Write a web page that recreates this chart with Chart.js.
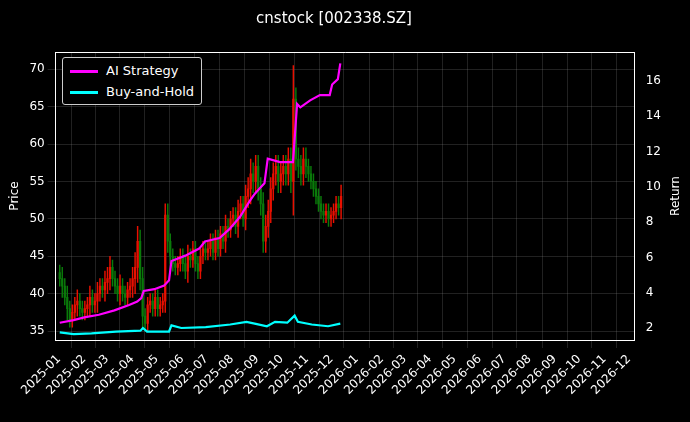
<!DOCTYPE html>
<html>
<head>
<meta charset="utf-8">
<script src="https://cdn.jsdelivr.net/npm/chart.js@4"></script>
<style>
body { margin: 0; background: #000; }
#wrap { position: relative; width: 690px; height: 422px; }
#legend { position: absolute; left: 62px; top: 57px; border: 1px solid #ccc; border-radius: 3px;
  padding: 2px 7px; font: 13px "DejaVu Sans"; color: #fff; background: #000; line-height: 21px; }
#legend span.l { display: inline-block; width: 28px; height: 3px; vertical-align: middle; margin-right: 8px; }
</style>
</head>
<body>
<div id="wrap">
<canvas id="c" width="690" height="422"></canvas>
<div id="legend">
  <div><span class="l" style="background:#ff00ff"></span>AI Strategy</div>
  <div><span class="l" style="background:#00ffff"></span>Buy-and-Hold</div>
</div>
</div>
<script>
// harga penutupan, kira-kira tiap 3 hari kalender mulai 2025-01-02
const closes = [
  42,41,39.5,38,36.5,37.5,38.5,39,38,37.5,
  38,38.5,39.5,38.5,39,40,41,40.5,41.5,
  42,43.5,42,41,40,41,40,39.5,40.5,41,
  42,43.5,47,42,37,36,38.5,39,38,39.5,
  38,38.5,39,50.5,47,45,44,43.5,44,45,
  44,43,45,44.5,46,44,43,45,46,45.5,
  46,47,45.5,47.5,46,48,47,49,48.5,50,
  50.5,49,51,52,50,53,54,56,55,57,
  54,52,47,49,51,54,56,57,55,56,
  57,56,58,55,66,58,57,56,58,57,
  56,55,54,53,52,51,50.5,51,50,50.5,
  51,52,51.5,53
];
const wicks = [
  1,1.5,1,1.5,1,1,1,1.5,1,1,
  1,1,1.5,1,1,1.5,1,1,1.5,
  1.5,1.5,1,1,1,1.5,1,1,1,1,
  1.5,2,2,1.5,1.5,1,1,1,1,1,
  1,1,1,1.5,1.5,1,1,1,1,1,
  1,1,1.5,1,1,1,1,1,1,1,
  1,1,1,1,1,1,1,1.5,1,1,
  1,1,1.5,1,1,1.5,1.5,2,1.5,1.5,
  1.5,1.5,1.5,1.5,1.5,1.5,1.5,1.5,1.5,1.5,
  1.5,1.5,1.5,1.5,4.5,1.5,1.5,1.5,1.5,1.5,
  1,1,1,1,1,1,1,1,1,1,
  1,1,1,1.5
];
const candleStartDay = 1;
const candleStepDays = 3.08;

// kurva return (hari sejak 2025-01-01)
const aiDays = [1,18,31,49,68,86,96,101,104,117,129,135,138,155,172,179,197,209,222,234,240,246,252,256,271,287,292,296,308,320,332,335,342,345];
const aiVals = [2.3,2.45,2.6,2.75,3.0,3.3,3.5,3.7,4.1,4.2,4.4,4.7,5.8,6.1,6.5,6.9,7.1,7.6,8.3,9.2,9.6,9.9,10.2,11.6,11.4,11.4,14.7,14.5,14.9,15.2,15.2,15.8,16.1,17];
const bhDays = [1,18,40,70,100,103,108,135,138,150,180,210,230,240,255,265,280,289,293,310,330,345];
const bhVals = [1.75,1.65,1.7,1.8,1.85,2.0,1.8,1.8,2.15,2.0,2.05,2.2,2.35,2.25,2.1,2.35,2.3,2.7,2.35,2.2,2.1,2.25];

const priceTicks = [35,40,45,50,55,60,65,70];
const returnTicks = [2,4,6,8,10,12,14,16];

const base = Date.UTC(2025,0,1);
const monthTicks = [];
for (let y = 2025; y <= 2026; y++) for (let m = 0; m < 12; m++) {
  monthTicks.push({ value: (Date.UTC(y,m,1) - base) / 86400000, label: y + '-' + String(m+1).padStart(2,'0') });
}

const bodies = [], wickBars = [], colors = [];
let prev = closes[0] + 0.8;
closes.forEach((c, i) => {
  const x = candleStartDay + i * candleStepDays;
  const o = prev;
  bodies.push({ x: x, y: [o, c] });
  wickBars.push({ x: x, y: [Math.min(o,c) - wicks[i], Math.max(o,c) + wicks[i]] });
  colors.push(c >= o ? '#e81000' : '#0a7a0a');
  prev = c;
});

const grid = { color: 'rgba(140,140,140,0.4)', borderDash: [2,2], lineWidth: 0.6 };

new Chart(document.getElementById('c'), {
  data: {
    datasets: [
      { type: 'bar', data: wickBars, backgroundColor: colors, barThickness: 0.8, yAxisID: 'y', grouped: false, order: 3 },
      { type: 'bar', data: bodies, backgroundColor: colors, barThickness: 1.6, yAxisID: 'y', grouped: false, order: 2 },
      { type: 'line', data: aiDays.map((d,i) => ({x:d, y:aiVals[i]})), borderColor: '#ff00ff', borderWidth: 2.2, pointRadius: 0, yAxisID: 'y1', order: 1 },
      { type: 'line', data: bhDays.map((d,i) => ({x:d, y:bhVals[i]})), borderColor: '#00ffff', borderWidth: 2.2, pointRadius: 0, yAxisID: 'y1', order: 0 }
    ]
  },
  options: {
    responsive: false, animation: false,
    layout: { padding: { left: 4, right: 26, top: 0, bottom: 4 } },
    plugins: {
      legend: { display: false }, tooltip: { enabled: false },
      title: { display: true, text: 'cnstock [002338.SZ]', color: '#fff', font: { family: 'DejaVu Sans', size: 15, weight: 'normal' }, padding: { top: 10, bottom: 24 } }
    },
    scales: {
      x: {
        type: 'linear', min: -4, max: 706, offset: false,
        afterBuildTicks: s => { s.ticks = monthTicks.map(t => ({ value: t.value })); },
        ticks: { color: '#fff', font: { family: 'DejaVu Sans', size: 12 }, minRotation: 45, maxRotation: 45, autoSkip: false, padding: 4,
          callback: (v, i) => monthTicks[i] ? monthTicks[i].label : '' },
        afterFit: s => { s.height = 78; },
        grid: grid, border: { color: '#fff' }
      },
      y: {
        position: 'left', min: 33.8, max: 72.3,
        afterBuildTicks: s => { s.ticks = priceTicks.map(v => ({ value: v })); },
        ticks: { color: '#fff', font: { family: 'DejaVu Sans', size: 12 } },
        title: { display: true, text: 'Price', color: '#fff', font: { family: 'DejaVu Sans', size: 12 } },
        grid: grid, border: { color: '#fff' }
      },
      y1: {
        position: 'right', min: 1.32, max: 17.64,
        afterBuildTicks: s => { s.ticks = returnTicks.map(v => ({ value: v })); },
        ticks: { color: '#fff', font: { family: 'DejaVu Sans', size: 12 } },
        grid: { display: false }, border: { color: '#fff' }
      }
    }
  },
  plugins: [{
    id: 'extras',
    afterDraw(chart) {
      const a = chart.chartArea, ctx = chart.ctx;
      ctx.save(); ctx.strokeStyle = '#fff'; ctx.lineWidth = 1;
      ctx.beginPath(); ctx.moveTo(a.left, a.top + 0.5); ctx.lineTo(a.right, a.top + 0.5); ctx.stroke();
      ctx.fillStyle = '#fff'; ctx.font = '12px "DejaVu Sans"';
      ctx.translate(chart.scales.y1.right + 12, (a.top + a.bottom) / 2);
      ctx.rotate(-Math.PI / 2); ctx.textAlign = 'center'; ctx.textBaseline = 'middle';
      ctx.fillText('Return', 0, 0);
      ctx.restore();
    }
  }]
});
</script>
</body>
</html>
